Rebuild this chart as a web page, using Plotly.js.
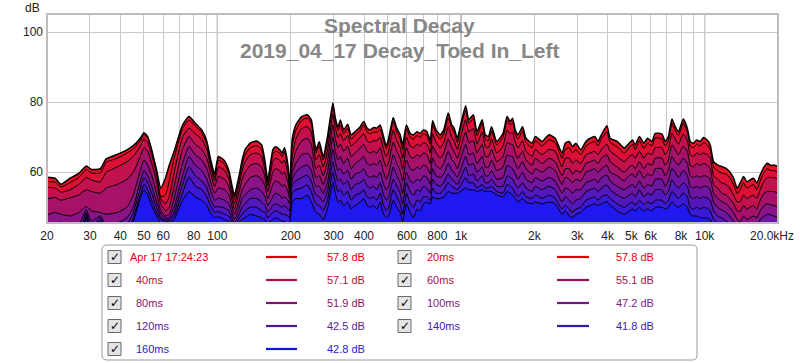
<!DOCTYPE html>
<html><head><meta charset="utf-8">
<script src="https://cdn.plot.ly/plotly-3.0.1.min.js"></script>
<style>html,body{margin:0;padding:0;background:#fff;overflow:hidden}#chart{width:800px;height:363px}</style>
</head><body><div id="chart"></div>
<script>
// ---------- data ----------
const freqHz = [20,21.6,22.8,24.9,27,29,30.4,33.1,35,38.8,
42.6,45.2,48.3,50,51.8,53.8,56.3,58.6,61.2,63.5,
66.5,72,76.5,81.2,86.3,90.6,93.6,97.5,101,107,
111.5,117.5,122,126.5,130,136.5,145,152,157,161,
169,173,180,184.5,188.5,195,198,203,210,222,
234,243,250,254,262,272,283,298,305,313,
320,330,343,354,368,386,399,412,424,438,
452,466,481,494,505,527,545,563,576,597,
619,639,660,680,702,725,748,765,790,822,
850,886,917,937,966,993,1045,1077,1124,1163,
1222,1258,1296,1335,1402,1488,1546,1593,1628,1670,
1713,1790,1848,1959,2017,2154,2296,2436,2598,2678,
2784,2870,2960,3100,3258,3391,3538,3650,3770,3970,
4097,4375,4675,4900,5061,5188,5400,5630,5830,6080,
6267,6680,6888,7100,7340,7570,7810,8170,8490,8723,
9000,9270,9587,9900,10240,10540,10880,11300,11770,12250,
12640,13140,13600,13990,14450,14900,15380,15870,16370,16900,
17550,18090,18680,19250,20000];

const d0ms = [58.6,58.3,56.6,58.3,59.7,61.8,60.8,61.0,63.8,65.1,
66.4,67.6,69.7,71.3,70.2,66.4,60.7,55.5,58.3,62.0,
66.0,73.5,75.9,74.0,72.1,68.8,64.0,59.5,64.5,63.3,
60.5,53.5,58.0,63.5,66.5,68.3,68.9,67.8,63.0,57.8,
66.4,67.3,66.5,65.5,67.0,62.0,55.9,69.5,73.5,75.9,
76.4,75.0,69.0,66.4,68.7,64.5,70.0,79.8,75.5,73.0,
74.9,72.1,73.7,70.7,71.6,73.0,74.5,72.6,72.1,72.8,
72.6,73.5,70.2,67.5,69.7,75.6,72.6,70.7,67.8,73.5,
71.1,70.7,71.6,71.1,72.1,71.6,69.2,74.7,72.1,70.7,
72.1,76.9,73.5,72.6,69.7,73.0,79.0,75.0,76.4,71.6,
75.0,70.7,70.2,73.0,68.8,71.1,75.9,74.5,75.4,72.1,
70.7,73.0,69.7,68.3,70.2,68.8,70.7,69.7,65.4,68.3,
68.8,67.3,68.3,66.4,68.8,69.7,70.2,68.8,70.7,73.3,
69.7,68.8,66.9,68.3,69.2,67.8,70.2,68.3,69.7,68.8,
71.1,70.9,68.8,70.2,75.2,73.0,71.6,75.2,72.6,68.8,
68.3,69.2,68.8,69.9,69.2,67.8,63.0,62.1,61.6,61.1,
60.2,58.3,55.4,56.9,58.8,57.3,57.8,58.3,56.9,59.2,
61.6,62.6,61.9,62.1,61.6];

const d20ms = [57.3,57.2,55.8,57.1,58.5,60.8,59.8,59.8,62.8,64.0,
65.5,66.6,69.0,70.7,69.8,66.0,60.2,53.0,53.5,57.5,
64.0,72.5,74.9,73.2,71.3,68.0,63.0,58.5,63.5,62.3,
59.5,52.5,57.0,62.3,65.0,67.0,67.6,66.5,62.0,57.0,
65.0,66.0,65.5,64.5,65.8,61.0,55.5,67.5,72.0,74.8,
75.5,74.0,68.0,65.5,67.5,63.5,68.5,78.5,74.5,72.0,
73.5,71.0,72.5,69.5,70.5,72.0,73.5,71.5,71.0,71.5,
71.5,72.3,69.0,66.5,68.5,74.5,71.5,69.5,66.5,72.3,
70.0,69.5,70.5,70.0,71.0,70.5,68.0,73.5,71.0,69.5,
71.0,75.5,72.5,71.5,68.5,72.0,77.8,74.0,75.3,70.5,
74.0,69.5,69.0,71.8,67.8,70.0,74.8,73.5,74.3,71.0,
69.5,71.8,68.5,67.0,69.0,67.5,69.3,68.5,64.0,66.5,
67.0,65.5,66.5,65.0,67.5,68.3,68.8,67.5,69.5,71.5,
68.5,67.3,65.5,67.0,68.0,66.5,69.0,66.8,68.3,67.5,
69.8,69.5,67.5,69.0,74.0,72.0,70.5,74.0,71.5,67.5,
67.0,68.0,67.5,68.5,67.8,66.5,61.5,60.5,59.7,59.5,
58.5,56.5,54.0,55.0,57.0,55.5,56.0,56.5,55.0,57.5,
60.0,61.0,60.5,60.5,60.0];

const d40ms = [55.7,55.5,54.3,55.0,56.5,58.5,57.8,57.2,60.0,61.5,
63.0,64.5,67.5,69.5,68.5,65.0,59.5,52.5,51.0,53.0,
60.0,70.0,72.6,71.0,69.5,66.5,62.0,57.5,61.5,60.5,
58.0,51.0,55.5,60.5,63.0,65.0,65.5,64.5,60.5,56.0,
63.0,64.0,63.5,62.5,63.5,59.5,55.0,64.5,69.5,72.5,
73.0,71.5,66.0,63.5,65.0,61.5,66.0,76.5,72.5,70.0,
71.0,69.0,70.5,67.5,68.5,70.0,71.0,69.0,68.5,69.0,
69.0,70.0,66.5,64.5,66.0,72.0,69.0,67.0,64.0,70.0,
67.5,67.0,68.0,67.5,68.5,68.0,65.5,71.0,68.5,67.0,
68.5,73.0,70.0,69.0,66.5,69.5,75.0,71.5,72.5,68.0,
71.5,67.5,67.0,69.5,65.5,67.5,72.0,71.0,71.5,68.5,
67.0,69.0,66.0,64.5,66.5,65.0,66.5,66.0,61.5,64.0,
64.0,62.5,63.5,62.5,65.0,65.5,66.0,65.0,66.5,68.0,
66.0,64.5,63.0,64.5,65.0,64.0,66.0,64.0,65.5,65.0,
67.0,67.0,65.0,66.5,71.1,69.5,68.0,71.0,69.0,65.0,
64.5,65.5,65.0,65.5,65.0,64.0,59.0,58.0,56.9,56.5,
55.5,53.5,51.5,51.6,53.5,52.5,53.0,53.5,52.5,55.0,
57.5,58.5,58.5,58.5,58.0];

const d60ms = [52.4,52.8,52.0,52.7,53.5,55.0,54.5,54.0,55.5,56.5,
58.0,60.0,64.5,67.0,66.0,62.5,57.5,51.0,49.0,50.0,
56.0,66.5,70.2,68.0,66.5,64.0,60.0,56.0,58.8,58.0,
56.0,49.5,53.5,58.0,60.0,62.0,62.5,61.5,58.5,54.5,
60.0,61.0,60.5,59.5,60.0,57.0,54.0,62.0,66.0,69.0,
69.7,68.0,63.0,61.0,62.0,59.0,63.0,73.5,69.5,67.0,
68.0,66.0,67.5,64.5,65.5,67.0,68.0,66.0,65.5,66.0,
65.5,67.0,63.5,61.5,63.0,68.5,66.0,64.0,61.0,67.0,
64.5,64.0,65.0,64.5,65.5,65.0,62.5,67.5,65.5,64.0,
65.5,69.5,67.0,66.0,64.0,66.5,71.5,68.5,69.0,65.5,
68.0,64.5,64.5,66.5,63.0,64.5,68.5,68.0,68.0,65.5,
64.0,66.0,63.5,62.0,64.0,62.5,64.0,63.0,59.0,61.0,
61.0,59.5,60.5,60.0,62.5,63.0,63.5,62.5,64.0,65.0,
63.0,61.5,60.0,61.5,62.0,61.0,63.0,61.0,62.5,62.0,
64.0,64.0,62.0,63.5,67.8,66.5,65.0,67.5,66.0,62.0,
61.5,62.5,62.0,62.5,62.1,61.0,56.5,55.5,54.0,53.5,
52.5,51.0,49.0,48.8,50.5,49.5,50.0,50.5,49.5,52.0,
54.0,54.5,54.5,54.5,54.0];

const d80ms = [47.8,48.5,48.0,47.5,48.5,50.2,49.0,48.5,48.0,48.5,
50.0,53.5,60.5,63.5,62.0,59.0,54.0,49.0,47.5,48.0,
52.5,62.5,67.3,65.0,63.5,61.0,57.5,54.0,55.5,55.0,
53.5,48.0,51.0,55.0,56.5,58.5,59.0,58.0,56.0,52.5,
56.5,57.5,57.0,56.0,56.5,54.5,52.5,60.0,62.5,65.0,
65.4,64.0,60.0,58.5,59.0,56.5,60.0,70.0,66.0,63.5,
64.5,62.5,64.0,61.0,62.5,63.5,64.5,62.5,62.0,62.5,
62.0,63.5,60.0,58.0,59.5,65.0,62.5,60.5,57.5,63.5,
61.0,60.5,61.5,61.0,62.0,61.5,59.5,64.0,62.0,61.0,
62.5,66.0,63.5,63.0,61.0,63.5,68.0,65.0,65.5,62.5,
64.5,61.5,61.5,63.5,60.5,61.5,65.0,64.5,64.5,62.5,
61.0,63.0,61.0,59.5,61.0,60.0,61.5,60.5,56.5,58.5,
58.0,57.0,58.0,57.5,60.0,60.5,61.0,60.0,61.0,62.0,
60.0,59.0,57.5,59.0,59.5,58.5,60.5,58.3,59.5,59.0,
61.0,61.0,59.0,60.5,64.5,63.0,62.0,64.0,62.5,59.0,
58.5,59.0,58.5,59.0,58.8,58.0,54.0,52.5,51.6,51.0,
50.0,48.5,46.5,45.9,47.5,46.5,47.0,47.5,47.0,49.0,
50.5,51.0,50.7,50.5,50.0];

const d100ms = [44.0,44.5,45.8,44.5,45.0,49.3,46.0,47.5,45.0,45.5,
47.0,50.0,57.5,60.5,59.0,56.0,51.5,48.0,47.0,47.0,
50.0,59.0,64.5,62.0,60.5,58.0,55.0,52.0,52.6,52.0,
51.0,46.5,49.0,52.5,53.5,55.0,55.5,54.5,53.0,50.5,
53.0,54.0,53.5,52.5,53.0,52.0,51.0,58.0,60.0,61.5,
62.1,60.5,57.0,56.0,56.0,54.0,57.0,66.5,63.0,60.5,
61.0,59.5,60.5,58.0,59.5,60.0,61.0,59.0,58.5,59.0,
58.5,60.0,56.5,55.0,56.0,61.5,59.0,57.0,54.0,60.0,
57.5,57.0,58.0,57.5,59.0,58.5,56.5,61.0,59.0,58.5,
59.5,62.5,60.5,60.0,58.5,60.5,64.5,62.0,62.5,60.0,
61.5,59.0,59.0,60.5,58.0,58.5,62.0,61.5,61.0,59.5,
58.0,60.0,58.0,57.0,58.5,57.5,58.5,57.5,54.0,55.5,
55.0,54.0,55.0,55.0,57.0,57.5,58.0,57.0,58.5,59.2,
57.5,56.0,55.0,56.0,56.5,55.5,57.5,55.4,56.5,56.0,
58.0,58.0,56.0,57.5,61.1,60.0,58.5,60.5,59.0,56.0,
55.5,56.0,55.5,56.0,55.9,55.0,51.5,50.0,49.2,48.5,
47.5,46.0,44.5,44.0,45.0,44.5,44.5,45.0,44.5,46.5,
47.5,48.0,47.8,47.5,47.0];

const d120ms = [42.0,42.0,42.5,42.0,42.0,48.5,44.0,47.0,43.0,43.0,
45.0,48.5,55.5,58.5,57.0,54.0,50.0,47.0,46.5,46.5,
48.5,56.5,61.6,59.0,57.5,55.5,52.5,50.0,50.2,49.8,
49.0,45.5,47.5,50.0,51.0,52.5,52.5,51.5,50.5,48.5,
50.5,51.0,50.5,50.0,50.5,49.5,49.0,56.5,57.5,58.5,
59.2,57.5,54.5,53.5,53.0,51.5,54.5,63.0,60.0,57.5,
58.0,56.5,57.5,55.0,56.5,57.0,58.0,56.0,55.5,56.0,
55.0,57.0,53.5,52.0,53.0,58.0,56.0,54.0,51.0,57.0,
54.5,53.5,55.0,54.5,56.0,55.5,54.0,58.0,56.5,56.0,
57.0,59.5,58.0,57.5,56.5,58.0,61.5,59.0,59.5,57.5,
59.0,57.0,57.0,58.0,56.0,56.0,59.0,58.5,58.0,56.5,
55.5,57.0,55.5,54.5,56.0,55.0,56.0,55.0,51.5,53.0,
52.0,51.0,52.0,52.5,54.5,55.0,55.5,54.5,55.5,56.4,
55.0,53.5,52.5,53.5,54.0,53.0,55.0,53.0,54.0,53.5,
55.0,55.0,53.5,54.5,57.8,56.5,55.5,57.0,56.0,53.0,
52.5,53.0,52.5,53.0,52.6,52.0,49.0,47.5,46.9,46.0,
45.5,44.0,42.5,42.0,43.0,42.5,42.5,43.0,42.5,44.0,
45.0,45.5,45.0,45.0,44.5];

const d140ms = [40.0,40.0,40.0,40.0,40.0,47.8,42.0,46.3,41.0,41.0,
43.0,47.0,53.5,56.5,55.0,52.0,48.5,46.5,46.0,46.0,
47.5,54.0,58.7,56.0,55.0,53.0,50.5,48.5,48.8,48.0,
47.5,44.5,46.5,48.0,49.0,50.0,50.0,49.0,48.5,47.0,
48.5,49.0,48.5,48.0,48.0,47.5,47.0,54.0,55.0,55.5,
56.4,54.5,52.0,51.0,50.5,49.0,52.0,60.0,57.0,54.5,
55.0,53.5,54.5,52.0,53.5,54.0,55.0,53.0,52.5,53.0,
52.0,54.0,50.5,49.0,50.0,55.0,53.0,51.0,48.0,54.0,
51.0,50.0,52.0,51.5,53.0,53.0,52.0,55.5,54.0,54.0,
55.0,57.0,56.0,55.5,55.0,56.0,58.5,57.0,57.0,55.5,
56.5,55.5,55.5,56.0,54.5,54.0,56.5,56.0,55.5,54.0,
53.0,54.5,53.0,52.5,53.5,52.5,53.5,52.5,49.5,50.5,
49.5,48.5,49.5,50.0,52.0,52.5,53.0,52.0,53.0,53.5,
52.5,51.0,50.0,51.0,51.5,50.5,52.0,50.7,51.5,51.0,
52.0,52.0,51.0,52.0,54.5,53.5,52.5,54.0,53.0,50.0,
49.5,50.0,49.5,50.0,49.7,49.0,46.5,45.5,44.5,44.0,
43.5,42.0,40.5,40.0,41.0,40.5,40.5,41.0,40.5,42.0,
43.0,43.0,43.0,43.0,42.5];

const d160ms = [38.0,38.0,38.0,38.0,38.0,47.0,40.0,45.5,39.0,39.0,
41.0,45.8,52.5,55.0,53.5,50.5,47.5,45.5,45.0,45.5,
46.5,52.0,54.5,53.0,52.0,50.5,48.5,47.0,47.3,46.5,
46.0,43.5,45.5,46.5,47.0,48.0,47.5,47.0,46.5,45.5,
46.5,47.0,46.5,46.0,46.0,45.5,45.5,51.5,52.5,52.5,
53.5,51.5,49.5,48.5,48.0,46.5,49.5,57.0,54.0,51.5,
52.0,50.5,51.5,49.5,50.5,51.5,52.5,50.5,50.0,50.5,
49.5,51.5,48.0,47.0,47.5,52.0,50.0,48.5,46.0,51.0,
48.5,47.0,49.5,49.0,51.0,51.5,51.0,53.0,52.5,52.5,
53.0,54.5,54.0,54.0,54.0,54.5,55.5,55.0,55.0,54.5,
55.0,54.5,54.5,54.5,53.5,53.0,54.5,54.0,53.5,52.5,
51.5,52.5,51.5,51.0,51.5,51.0,51.5,51.0,48.0,49.0,
47.5,47.0,48.0,48.5,50.0,50.5,51.0,50.5,51.0,51.6,
50.5,49.0,48.0,49.0,49.5,49.0,50.0,49.0,49.5,49.0,
50.0,50.0,49.5,50.0,51.6,50.5,50.0,51.0,50.0,48.0,
47.5,47.5,47.0,47.0,46.9,46.5,44.5,43.5,42.5,42.0,
41.5,40.0,39.0,38.5,39.0,39.0,39.0,39.0,39.0,40.0,
41.0,41.0,41.0,41.0,40.5];

const sliceNames = ['Apr 17 17:24:23','20ms','40ms','60ms','80ms','100ms','120ms','140ms','160ms'];
const legendValues = ['57.8 dB','57.8 dB','57.1 dB','55.1 dB','51.9 dB','47.2 dB','42.5 dB','41.8 dB','42.8 dB'];
const gridFreqs = [20,30,40,50,60,70,80,90,100,200,300,400,500,600,700,800,900,1000,2000,3000,4000,5000,6000,7000,8000,9000,10000];
const gridLabels = ['20','30','40','50','60','','80','','100','200','300','400','','600','','800','','1k','2k','3k','4k','5k','6k','','8k','','10k'];
const decadeFreqs = [100,1000,10000];
const yTicks = [60,80,100];
const titleLines = ['Spectral Decay','2019_04_17 Decay_Toed In_Left'];

// ---------- styles ----------
const fillColors = ['#ea1026','#dc1034','#c2114c','#a51268','#8a1486','#6e16a2','#5318bc','#3a1ad6','#2018f0'];
const textColors = ['#e0000c','#e0000c','#c0103c','#a81050','#901064','#782484','#5a1c9c','#4020b0','#2a20c8'];
const keyColors  = ['#e00000','#e00000','#a8103c','#941052','#82106e','#701884','#521890','#341c9c','#1010e0'];

const series = [d0ms,d20ms,d40ms,d60ms,d80ms,d100ms,d120ms,d140ms,d160ms];

// plot area in pixels
const L = 47, T = 14, W = 731, H = 209;
const fx = px => (px - L) / W;
const fy = py => (T + H - py) / H;
const FONT = 'Liberation Sans, Arial, sans-serif';

const traces = series.map((v, i) => ({
  x: freqHz, y: v, type: 'scatter', mode: 'lines',
  line: {color: '#000', width: i === 0 ? 1.5 : 1, shape: 'spline', smoothing: 0.5},
  fill: 'tozeroy', fillcolor: fillColors[i],
  hoverinfo: 'skip', showlegend: false, name: sliceNames[i]
}));

const shapes = [];
const annotations = [];

// darker decade grid lines (between grid and traces)
decadeFreqs.forEach(f => {
  const p = Math.log10(f / freqHz[0]) / Math.log10(freqHz[freqHz.length - 1] / freqHz[0]);
  shapes.push({type: 'line', xref: 'paper', yref: 'paper', x0: p, x1: p, y0: 0, y1: 1,
    line: {color: '#6a6a6a', width: 1}, layer: 'between'});
});
// plot frame
shapes.push({type: 'rect', xref: 'paper', yref: 'paper', x0: 0, x1: 1, y0: 0, y1: 1,
  line: {color: '#bdbdbd', width: 2}, layer: 'above'});

// titles
annotations.push({text: '<b>' + titleLines[0] + '</b>', xref: 'paper', yref: 'paper', x: fx(399.5), y: fy(26),
  xanchor: 'center', yanchor: 'middle', showarrow: false, font: {family: FONT, size: 21, color: '#878787'}});
annotations.push({text: '<b>' + titleLines[1] + '</b>', xref: 'paper', yref: 'paper', x: fx(399.5), y: fy(50),
  xanchor: 'center', yanchor: 'middle', showarrow: false, font: {family: FONT, size: 21, color: '#878787'}});
// y unit label
annotations.push({text: 'dB', xref: 'paper', yref: 'paper', x: fx(42), y: fy(7.5), xanchor: 'right', yanchor: 'middle',
  showarrow: false, font: {family: FONT, size: 12, color: '#222'}});
// 20k end label
annotations.push({text: '20.0kHz', xref: 'paper', yref: 'paper', x: fx(771.5), y: fy(236), xanchor: 'center', yanchor: 'middle',
  showarrow: false, font: {family: FONT, size: 12, color: '#222'}});

// ---------- legend box ----------
function roundRect(x0, y0, x1, y1, r) {
  const P = (x, y) => fx(x) + ',' + fy(y);
  return 'M' + P(x0 + r, y0) + ' L' + P(x1 - r, y0) + ' Q' + P(x1, y0) + ' ' + P(x1, y0 + r) +
    ' L' + P(x1, y1 - r) + ' Q' + P(x1, y1) + ' ' + P(x1 - r, y1) +
    ' L' + P(x0 + r, y1) + ' Q' + P(x0, y1) + ' ' + P(x0, y1 - r) +
    ' L' + P(x0, y0 + r) + ' Q' + P(x0, y0) + ' ' + P(x0 + r, y0) + ' Z';
}
shapes.push({type: 'path', xref: 'paper', yref: 'paper', path: roundRect(102, 245, 697, 360, 5),
  line: {color: '#9a9a9a', width: 1}, fillcolor: '#ffffff', layer: 'above'});

const rowY = [257, 280, 303, 326, 349];
const cols = [
  {box: 108, name: 134, nameFirst: 128, l0: 266, l1: 297, val: 325},
  {box: 398, name: 425, nameFirst: 425, l0: 557, l1: 589, val: 614}
];
sliceNames.forEach((nm, i) => {
  const c = cols[i % 2], yy = rowY[Math.floor(i / 2)];
  shapes.push({type: 'rect', xref: 'paper', yref: 'paper', x0: fx(c.box), x1: fx(c.box + 13), y0: fy(yy - 6.5), y1: fy(yy + 6.5),
    line: {color: '#6a6a6a', width: 1}, fillcolor: '#e4e4e4', layer: 'above'});
  annotations.push({text: '<b>✓</b>', xref: 'paper', yref: 'paper', x: fx(c.box + 6.5), y: fy(yy), xanchor: 'center', yanchor: 'middle',
    showarrow: false, font: {family: 'DejaVu Sans', size: 12, color: '#000'}});
  annotations.push({text: nm, xref: 'paper', yref: 'paper', x: fx(i === 0 ? c.nameFirst : c.name), y: fy(yy), xanchor: 'left', yanchor: 'middle',
    showarrow: false, font: {family: FONT, size: 11, color: textColors[i]}});
  shapes.push({type: 'line', xref: 'paper', yref: 'paper', x0: fx(c.l0), x1: fx(c.l1), y0: fy(yy), y1: fy(yy),
    line: {color: keyColors[i], width: 2.2}, layer: 'above'});
  annotations.push({text: legendValues[i], xref: 'paper', yref: 'paper', x: fx(c.val), y: fy(yy), xanchor: 'left', yanchor: 'middle',
    showarrow: false, font: {family: FONT, size: 11, color: textColors[i]}});
});

const layout = {
  width: 800, height: 363,
  margin: {l: L, r: 800 - L - W, t: T, b: 363 - T - H, pad: 0},
  paper_bgcolor: '#ffffff', plot_bgcolor: '#ffffff',
  showlegend: false,
  xaxis: {type: 'log', range: [Math.log10(20), Math.log10(20000)], tickvals: gridFreqs, ticktext: gridLabels,
    showgrid: true, gridcolor: '#c9c9c9', gridwidth: 1, zeroline: false, showline: false, ticks: '',
    ticklabelstandoff: 4,
    tickfont: {family: FONT, size: 12, color: '#222'}, fixedrange: true},
  yaxis: {range: [45.5, 105.2], tickvals: yTicks, ticktext: yTicks.map(String),
    showgrid: true, gridcolor: '#c9c9c9', gridwidth: 1, zeroline: false, showline: false, ticks: '',
    ticklabelstandoff: 3,
    tickfont: {family: FONT, size: 12, color: '#222'}, fixedrange: true},
  shapes: shapes,
  annotations: annotations
};

Plotly.newPlot('chart', traces, layout, {staticPlot: true, displayModeBar: false});
</script>
</body></html>
